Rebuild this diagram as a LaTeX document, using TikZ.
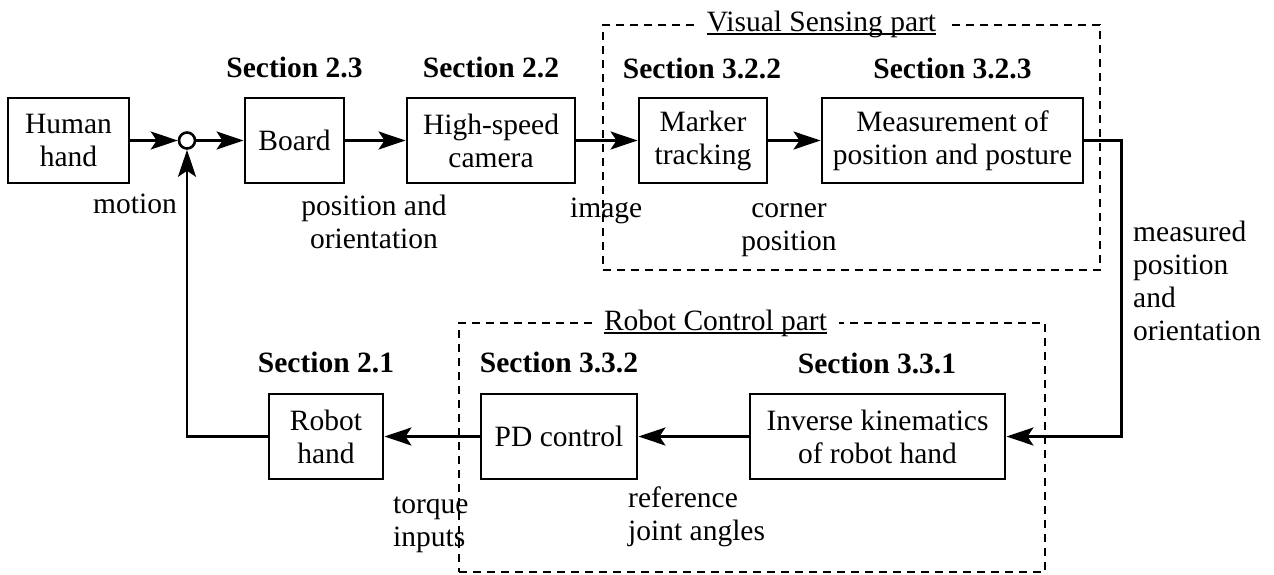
\documentclass[tikz,border=0pt]{standalone}
\usepackage{fontspec}
\setmainfont{Liberation Serif}
\usetikzlibrary{arrows.meta}
\newcommand\dfont{\fontsize{29.5}{33}\selectfont}
\begin{document}
\begin{tikzpicture}[x=1pt,y=-1pt,
  >={Stealth[length=27pt,width=18pt,inset=6pt]},
  blk/.style={draw,line width=2.9pt,minimum height=85pt,inner sep=0pt,align=center,font=\dfont},
  sec/.style={font=\dfont\bfseries,inner sep=0pt},
  lbl/.style={font=\dfont,inner sep=0pt},
  conn/.style={line width=2.8pt,->},
  region/.style={draw,dash pattern=on 8pt off 6pt,line width=2.3pt,inner sep=0pt},
  rtitle/.style={font=\dfont,fill=white,inner xsep=12pt,inner ysep=0pt},
  uline/.style={line width=1.6pt}]
\useasboundingbox (0,0) rectangle (1274,574);

% dashed regions
\node[region,minimum width=497pt,minimum height=245pt] (vis) at (851.5,147.5) {};
\node[region,minimum width=586pt,minimum height=249pt] (rob) at (752,447.5) {};

% blocks
\node[blk,minimum width=121pt] (human) at (68.5,140.5) {Human\\hand};
\node[draw,circle,line width=2.6pt,minimum size=16pt,inner sep=0pt] (sum) at (187,140.5) {};
\node[blk,minimum width=99pt] (board) at (294.5,140.5) {Board};
\node[blk,minimum width=168pt] (cam) at (491,140.5) {High-speed\\camera};
\node[blk,minimum width=128pt] (marker) at (703,140.5) {Marker\\tracking};
\node[blk,minimum width=261pt] (meas) at (952.5,140.5) {Measurement of\\position and posture};
\node[blk,minimum width=114pt] (robot) at (326,436.5) {Robot\\hand};
\node[blk,minimum width=156pt] (pd) at (559,436.5) {PD control};
\node[blk,minimum width=255pt] (ik) at (877.5,436.5) {Inverse kinematics\\of robot hand};

% section labels
\node[sec] (s23) at (294.5,67) {Section 2.3};
\node[sec] (s22) at (491,67) {Section 2.2};
\node[sec] (s322) at (702,68) {Section 3.2.2};
\node[sec] (s323) at (952.5,68) {Section 3.2.3};
\node[sec] (s21) at (326,362) {Section 2.1};
\node[sec] (s332) at (559,362) {Section 3.3.2};
\node[sec] (s331) at (877,363) {Section 3.3.1};

% connectors
\draw[conn] (human) -- (sum);
\draw[conn] (sum) -- (board);
\draw[conn] (board) -- (cam);
\draw[conn] (cam) -- (marker);
\draw[conn] (marker) -- (meas);
\draw[conn] (meas.east) -- ++(37,0) |- (ik.east);
\draw[conn] (ik) -- (pd);
\draw[conn] (pd) -- (robot);
\draw[conn] (robot.west) -| (sum.south);

% signal labels
\node[lbl,anchor=base east] (lmotion) at (177,213) {motion};
\node[lbl,align=center,anchor=north] (lpos) at (374,192) {\strut position and\\orientation};
\node[lbl,anchor=base west] (limage) at (570,217) {image};
\node[lbl,align=center,anchor=north] (lcorner) at (789,194) {\strut corner\\position};
\node[lbl,align=left,anchor=north west] (lmeas) at (1133,218) {\strut measured\\position\\and\\orientation};
\node[lbl,align=left,anchor=north west] (ltorque) at (393,490) {\strut torque\\inputs};
\node[lbl,align=left,anchor=north west] (lref) at (628,484) {\strut reference\\joint angles};

% region titles
\node[rtitle,anchor=base] (tvis) at (821.5,31) {Visual Sensing part};
\draw[uline] ([xshift=12pt,yshift=-3pt]tvis.base west) -- ([xshift=-12pt,yshift=-3pt]tvis.base east);
\node[rtitle,anchor=base] (trob) at (715.5,330) {Robot Control part};
\draw[uline] ([xshift=12pt,yshift=-3pt]trob.base west) -- ([xshift=-12pt,yshift=-3pt]trob.base east);
\end{tikzpicture}
\end{document}
